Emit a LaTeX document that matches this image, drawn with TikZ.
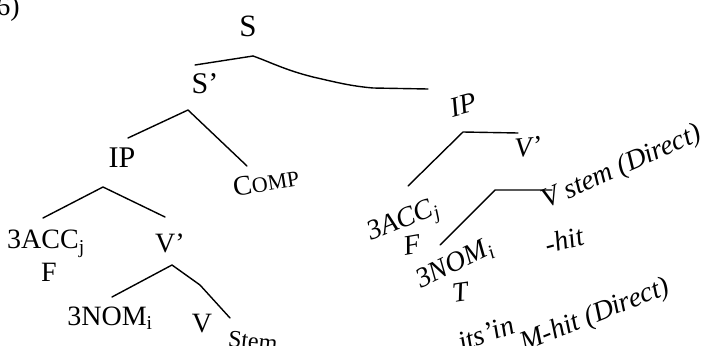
\documentclass[tikz,border=0pt]{standalone}
\usepackage{fontspec}
\setmainfont{Liberation Serif}
\begin{document}
\begin{tikzpicture}[x=1pt,y=-1pt,
  lbl/.style={inner sep=0pt, font=\fontsize{28}{28}\selectfont},
  ilbl/.style={inner sep=0pt, font=\fontsize{28}{28}\selectfont\itshape},
  br/.style={line width=1.4pt, line cap=round, line join=round}]
\useasboundingbox (0,0) rectangle (711,345);
\clip (0,0) rectangle (711,345);
% ---------- left tree labels ----------
\node[lbl] (six) at (8,9) {6)};
\node[lbl, font=\fontsize{31}{31}\selectfont] (S) at (248,26) {S};
\node[lbl, font=\fontsize{30}{30}\selectfont] (Sp) at (205,84) {S'};
\node[lbl, font=\fontsize{30}{30}\selectfont] (IPl) at (122,158) {IP};
\node[lbl, rotate=9] (COMP) at (266,182) {C{\fontsize{22}{22}\selectfont OMP}};
\node[lbl] (ACCl) at (46,244) {3ACC\textsubscript{j}};
\node[lbl] (Vpl) at (170,243) {V'};
\node[lbl] (Fl) at (49,272) {F};
\node[lbl] (NOMl) at (110,318) {3NOM\textsubscript{i}};
\node[lbl] (Vl) at (202,324) {V};
\node[lbl, font=\fontsize{24}{24}\selectfont, rotate=-6, anchor=north west] (Stem) at (229,330) {Stem};
% ---------- right tree labels ----------
\node[ilbl, rotate=15] (IPr) at (463,105) {IP};
\node[ilbl, rotate=5] (Vpr) at (528,147) {V'};
\node[ilbl, rotate=24, anchor=base west] (Vstem) at (546,209) {V stem (Direct)};
\node[ilbl, rotate=22, anchor=base west] (ACCr) at (371,241) {3ACC\textsubscript{j}};
\node[ilbl, rotate=10] (Fr) at (412,245) {F};
\node[ilbl, rotate=26, anchor=base west] (NOMr) at (421,289) {3NOM\textsubscript{i}};
\node[ilbl, rotate=15] (hit) at (564,240) {-hit};
\node[ilbl, rotate=8] (Tr) at (460,292) {T};
\node[ilbl, rotate=20, anchor=base west] (itsin) at (462,352) {its'in};
\node[ilbl, rotate=22, anchor=base west] (Mhit) at (524,352) {M-hit (Direct)};
% ---------- branch points ----------
\coordinate (aS) at (253,56);
\coordinate (eSl) at (195,65);
\coordinate (eSr) at (428,89);
\coordinate (aSp) at (188,110);
\coordinate (eSpl) at (128,138);
\coordinate (eSpr) at (247,166);
\coordinate (aIP) at (103,187);
\coordinate (eIPl) at (43,218);
\coordinate (eIPr) at (165,217);
\coordinate (aV) at (172,265);
\coordinate (eVl) at (112,297);
\coordinate (eVr) at (230,318);
\coordinate (aIPr) at (463,132);
\coordinate (eIPrr) at (518,133);
\coordinate (eIPrl) at (408,186);
\coordinate (aN) at (495,190);
\coordinate (eNr) at (552,190);
\coordinate (eNl) at (440,245);
% ---------- branches ----------
\draw[br] (eSl) -- (aS);
\draw[br] (aS) .. controls (270,62) and (285,70) .. (313,77)
  .. controls (335,82) and (350,86) .. (373,88) -- (eSr);
\draw[br] (eSpl) -- (aSp) -- (eSpr);
\draw[br] (eIPl) -- (aIP) -- (eIPr);
\draw[br] (eVl) -- (aV) -- (200,285) -- (eVr);
\draw[br] (eIPrl) -- (aIPr) -- (eIPrr);
\draw[br] (eNl) -- (aN) -- (eNr);
\end{tikzpicture}
\end{document}
